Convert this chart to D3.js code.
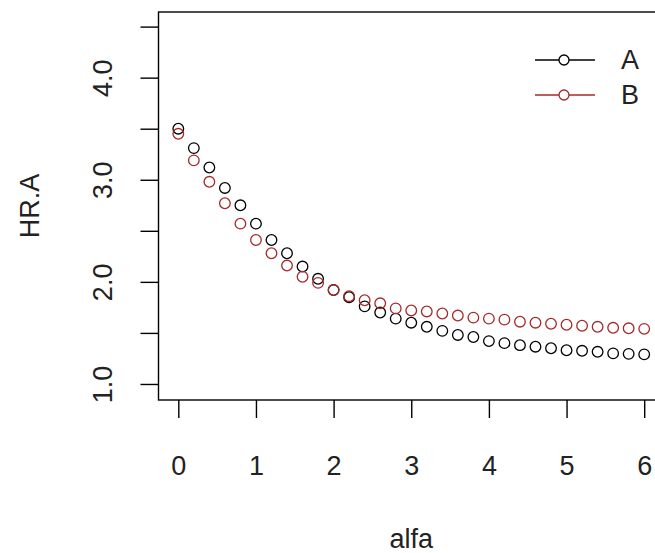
<!DOCTYPE html>
<html>
<head>
<meta charset="utf-8">
<script src="https://cdn.jsdelivr.net/npm/d3@7"></script>
<style>
  html, body { margin: 0; padding: 0; background: #fff; }
  svg { display: block; font-family: "Liberation Sans", Arial, sans-serif; }
</style>
</head>
<body>
<svg id="chart" width="655" height="553"></svg>
<script>
// alfa values (0 to 6, step 0.2)
const alfa = [0, 0.2, 0.4, 0.6, 0.8, 1.0, 1.2, 1.4, 1.6, 1.8, 2.0, 2.2, 2.4, 2.6, 2.8, 3.0,
              3.2, 3.4, 3.6, 3.8, 4.0, 4.2, 4.4, 4.6, 4.8, 5.0, 5.2, 5.4, 5.6, 5.8, 6.0];
// HR.A for series A
const seriesA = [3.50, 3.31, 3.12, 2.92, 2.75, 2.57, 2.41, 2.28, 2.15, 2.03, 1.92, 1.85, 1.76, 1.70, 1.64, 1.60,
                 1.56, 1.52, 1.48, 1.46, 1.42, 1.40, 1.38, 1.365, 1.35, 1.33, 1.325, 1.315, 1.30, 1.295, 1.29];
// HR.A for series B
const seriesB = [3.45, 3.19, 2.98, 2.77, 2.57, 2.41, 2.28, 2.16, 2.05, 1.99, 1.92, 1.86, 1.82, 1.79, 1.74, 1.72,
                 1.71, 1.69, 1.67, 1.65, 1.64, 1.63, 1.61, 1.60, 1.59, 1.58, 1.57, 1.56, 1.55, 1.545, 1.54];
const seriesNames = ["A", "B"];
const seriesColors = ["#000000", "#a52a2a"];
const xTicks = [0, 1, 2, 3, 4, 5, 6];
const yTicks = [1.0, 1.5, 2.0, 2.5, 3.0, 3.5, 4.0, 4.5];
const yLabelled = [1.0, 2.0, 3.0, 4.0];

const svg = d3.select("#chart");
const FONT = 27;

// Plot region (right side runs past the canvas)
const x = d3.scaleLinear().domain([-0.255, 6.255]).range([158.5, 664]);
const y = d3.scaleLinear().domain([0.843, 4.643]).range([400, 12]);

// Frame
svg.append("rect")
  .attr("x", x.range()[0]).attr("y", y.range()[1])
  .attr("width", x.range()[1] - x.range()[0])
  .attr("height", y.range()[0] - y.range()[1])
  .attr("fill", "none").attr("stroke", "#000").attr("stroke-width", 1.4);

// Bottom axis
const gx = svg.append("g")
  .attr("transform", `translate(0,${y.range()[0]})`)
  .call(d3.axisBottom(x).tickValues(xTicks).tickSize(18).tickPadding(38).tickFormat(d3.format("d")));
gx.select(".domain").remove();
gx.selectAll(".tick line").attr("stroke-width", 1.4);
gx.selectAll(".tick text").attr("font-size", FONT).attr("fill", "#222")
  .attr("font-family", "Liberation Sans, Arial, sans-serif");

// Left axis, labels on whole numbers only, rotated
const gy = svg.append("g")
  .attr("transform", `translate(${x.range()[0]},0)`)
  .call(d3.axisLeft(y).tickValues(yTicks).tickSize(18)
    .tickFormat(d => yLabelled.includes(d) ? d3.format(".1f")(d) : ""));
gy.select(".domain").remove();
gy.selectAll(".tick line").attr("stroke-width", 1.4);
gy.selectAll(".tick text")
  .attr("font-size", FONT).attr("fill", "#222")
  .attr("font-family", "Liberation Sans, Arial, sans-serif")
  .attr("x", null).attr("dy", null)
  .attr("text-anchor", "middle")
  .attr("transform", "translate(-56,0) rotate(-90)")
  .attr("dominant-baseline", "central");

// Axis titles
svg.append("text")
  .attr("x", x(3)).attr("y", 548)
  .attr("text-anchor", "middle").attr("font-size", FONT).attr("fill", "#222")
  .text("alfa");
svg.append("text")
  .attr("transform", `translate(30,${(y.range()[0] + y.range()[1]) / 2}) rotate(-90)`)
  .attr("text-anchor", "middle").attr("dominant-baseline", "central")
  .attr("font-size", FONT).attr("fill", "#222")
  .text("HR.A");

// Points
const series = [seriesA, seriesB];
series.forEach((vals, i) => {
  svg.append("g").selectAll("circle")
    .data(alfa.map((a, j) => [a, vals[j]]))
    .join("circle")
    .attr("cx", d => x(d[0])).attr("cy", d => y(d[1]))
    .attr("r", 5.3)
    .attr("fill", "none")
    .attr("stroke", seriesColors[i])
    .attr("stroke-width", 1.3);
});

// Legend
const legend = svg.append("g");
seriesNames.forEach((name, i) => {
  const ly = 60 + i * 35;
  legend.append("line").attr("x1", 535).attr("x2", 595).attr("y1", ly).attr("y2", ly)
    .attr("stroke", seriesColors[i]).attr("stroke-width", 1.3);
  legend.append("circle").attr("cx", 564).attr("cy", ly).attr("r", 5)
    .attr("fill", "#fff").attr("stroke", seriesColors[i]).attr("stroke-width", 1.3);
  legend.append("text").attr("x", 621).attr("y", ly).attr("dominant-baseline", "central")
    .attr("font-size", FONT).attr("fill", "#222").text(name);
});
</script>
</body>
</html>
